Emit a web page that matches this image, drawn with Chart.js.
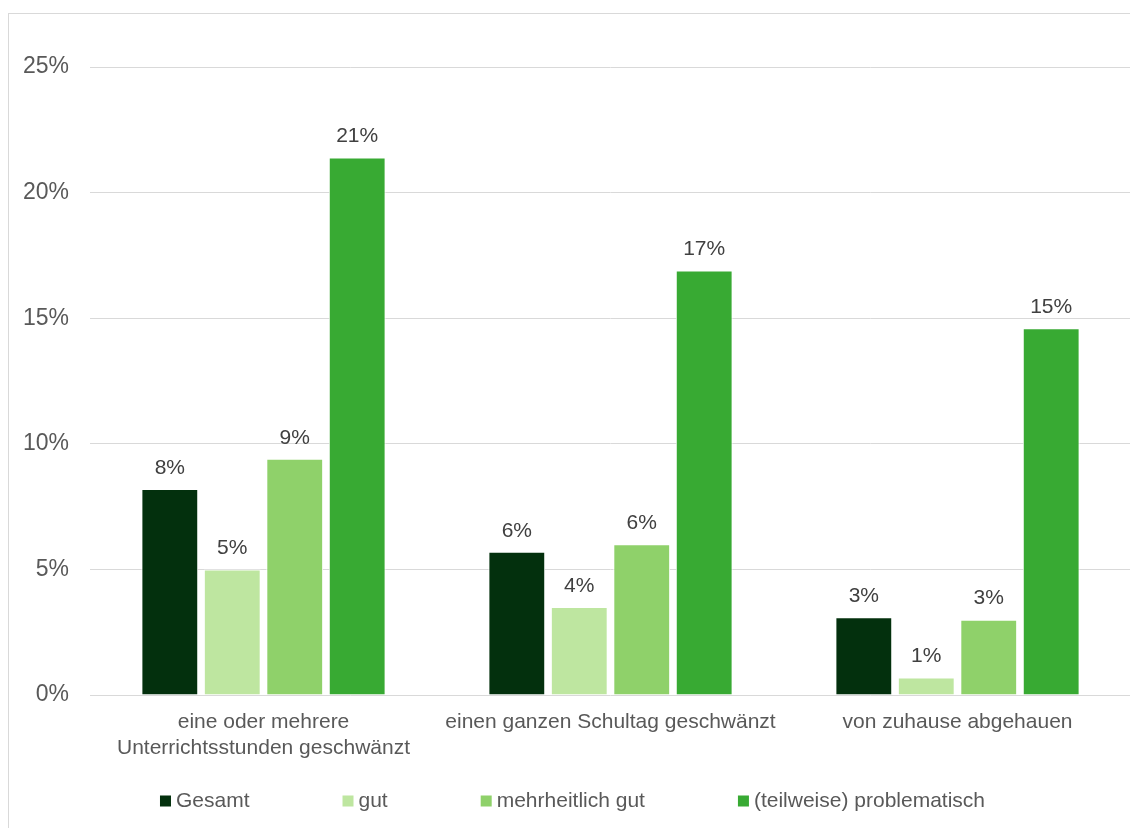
<!DOCTYPE html>
<html lang="de">
<head>
    <meta charset="UTF-8">
    <title>Schwänzen und Weglaufen</title>
    <script src="https://cdn.jsdelivr.net/npm/chart.js"></script>
    <style>
        html, body {
            margin: 0;
            padding: 0;
            background: #fff;
            overflow: hidden;
            width: 1130px;
            height: 828px;
        }

        .chart-box {
            position: absolute;
            left: 8px;
            top: 13px;
            width: 1127px;
            height: 830px;
            border: 1px solid #d9d9d9;
        }
    </style>
</head>
<body>
<div class="chart-box">
    <canvas id="chart" width="1127" height="830"></canvas>
</div>

<script>
    // Chart data
    const categories = [
        ['eine oder mehrere', 'Unterrichtsstunden geschwänzt'],
        'einen ganzen Schultag geschwänzt',
        'von zuhause abgehauen'
    ];
    const seriesNames = ['Gesamt', 'gut', 'mehrheitlich gut', '(teilweise) problematisch'];
    const gesamt = [8.2, 5.7, 3.1];
    const gut = [5.0, 3.5, 0.7];
    const mehrheitlichGut = [9.4, 6.0, 3.0];
    const problematisch = [21.4, 16.9, 14.6];
    const yTicks = [0, 5, 10, 15, 20, 25];

    const colors = ['#03300d', '#bee6a0', '#8fd16a', '#38aa33'];
    const textColor = '#595959';
    const fontFamily = 'Liberation Sans, Arial, sans-serif';
    const font = { family: fontFamily, size: 21 };

    // Draws the rounded percentage above each bar
    const valueLabels = {
        id: 'valueLabels',
        afterDatasetsDraw(chart) {
            const ctx = chart.ctx;
            ctx.save();
            ctx.font = '21px ' + fontFamily;
            ctx.fillStyle = '#404040';
            ctx.textAlign = 'center';
            ctx.textBaseline = 'middle';
            chart.data.datasets.forEach((ds, i) => {
                chart.getDatasetMeta(i).data.forEach((bar, j) => {
                    ctx.fillText(Math.round(ds.data[j]) + '%', bar.x, bar.y - 21);
                });
            });
            ctx.restore();
        }
    };

    // Legend row at the bottom, spaced like the original (wide gaps between items)
    const bottomLegend = {
        id: 'bottomLegend',
        afterDraw(chart) {
            const ctx = chart.ctx;
            const box = 11, textGap = 5, itemGap = 93, y = 787;
            ctx.save();
            ctx.font = '21px ' + fontFamily;
            ctx.textBaseline = 'middle';
            const items = chart.data.datasets.map(ds => ({
                text: ds.label,
                color: ds.backgroundColor,
                width: box + textGap + ctx.measureText(ds.label).width
            }));
            const total = items.reduce((s, it) => s + it.width, 0) + itemGap * (items.length - 1);
            let x = chart.width / 2 - total / 2;
            items.forEach(it => {
                ctx.fillStyle = it.color;
                ctx.fillRect(x, y - box / 2, box, box);
                ctx.fillStyle = textColor;
                ctx.fillText(it.text, x + box + textGap, y);
                x += it.width + itemGap;
            });
            ctx.restore();
        }
    };

    const seriesData = [gesamt, gut, mehrheitlichGut, problematisch];

    new Chart(document.getElementById('chart'), {
        type: 'bar',
        data: {
            labels: categories,
            datasets: seriesNames.map((name, i) => ({
                label: name,
                data: seriesData[i],
                backgroundColor: colors[i],
                borderColor: '#ffffff',
                borderWidth: 1,
                categoryPercentage: 0.72,
                barPercentage: 0.91
            }))
        },
        options: {
            responsive: false,
            animation: false,
            layout: {
                padding: { top: 53, right: 5, bottom: 83, left: 0 }
            },
            plugins: {
                tooltip: { enabled: false },
                legend: { display: false }
            },
            scales: {
                x: {
                    grid: { display: false, drawTicks: false },
                    border: { display: false },
                    ticks: {
                        color: textColor,
                        font: font,
                        padding: 15,
                        maxRotation: 0,
                        autoSkip: false
                    },
                    afterFit(scale) {
                        scale.height = 66;
                    }
                },
                y: {
                    min: 0,
                    max: 25,
                    afterBuildTicks(scale) {
                        scale.ticks = yTicks.map(v => ({ value: v }));
                    },
                    grid: { color: '#d9d9d9', lineWidth: 1, drawTicks: false },
                    border: { display: false },
                    ticks: {
                        color: textColor,
                        font: { family: fontFamily, size: 23 },
                        padding: 21,
                        callback: v => v + '%'
                    },
                    afterFit(scale) {
                        scale.width = 81;
                    }
                }
            }
        },
        plugins: [valueLabels, bottomLegend]
    });
</script>
</body>
</html>
